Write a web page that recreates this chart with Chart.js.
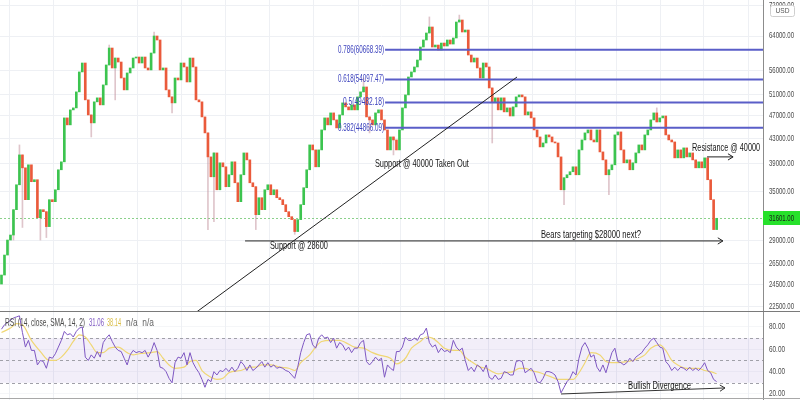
<!DOCTYPE html>
<html>
<head>
<meta charset="utf-8">
<script src="https://cdn.jsdelivr.net/npm/chart.js@4.4.1/dist/chart.umd.min.js"></script>
<style>
  html, body { margin: 0; padding: 0; background: #fff; }
  #wrap { position: relative; width: 800px; height: 400px; overflow: hidden; }
  #mainBox { position: absolute; left: 0; top: 0; width: 800px; height: 311px; }
  #rsiBox { position: absolute; left: 0; top: 311px; width: 800px; height: 89px; }
</style>
</head>
<body>
<div id="wrap">
  <div id="mainBox"><canvas id="priceChart" width="800" height="311"></canvas></div>
  <div id="rsiBox"><canvas id="rsiChart" width="800" height="89"></canvas></div>
</div>
<script>
// daily closes (USD) left to right
const closes = [
  25370, 27410, 29050, 29620, 32670, 35980, 40390, 38420, 33960, 38870,
  36410, 36690, 31680, 32670, 32420, 30600, 33960, 33700, 35290, 38130,
  39320, 46610, 45370, 48080, 48450, 51550, 55690, 57650, 49980, 47150,
  45720, 49600, 50370, 49020, 52960, 57210, 61090, 56550, 58770, 57870,
  54400, 51950, 55470, 56550, 58770, 59000, 57650, 59000, 56550, 56120,
  59920, 64000, 63020, 56120, 56550, 51950, 50560, 49400, 54400, 53990,
  57650, 56770, 53570, 58770, 56770, 49980, 49600, 46790, 43980, 40080,
  37110, 40700, 35290, 39170, 38570, 35710, 37400, 39320, 36260, 33700,
  37400, 40700, 39620, 36260, 35710, 32050, 34220, 32670, 35290, 35980,
  34620, 35290, 34220, 33960, 33310, 32420, 31800, 31440, 30020, 31440,
  33310, 35570, 38130, 41980, 41180, 38570, 41180, 44490, 46610, 45370,
  47520, 46250, 44840, 47150, 49400, 48640, 48080, 49020, 48080, 50560,
  51550, 52540, 46790, 46250, 45370, 47520, 48080, 46250, 44490, 41180,
  43300, 42800, 41180, 44490, 48450, 50950, 54610, 55690, 56770, 58320,
  61330, 63020, 64750, 66270, 61330, 61800, 60620, 62280, 61570, 63020,
  62040, 63510, 67560, 68090, 65000, 65500, 59460, 57870, 58770, 56550,
  54400, 57650, 56770, 52340, 49600, 50370, 48080, 50370, 47710, 48450,
  46960, 48640, 50560, 50950, 50560, 47150, 47710, 46610, 44490, 43300,
  41660, 42300, 43640, 43300, 42470, 42300, 40080, 35290, 36970, 37400,
  37840, 38570, 37400, 41180, 42800, 43980, 44490, 42800, 42470, 44490,
  40860, 39620, 37400, 38130, 38870, 43640, 44150, 41180, 39170, 39620,
  38130, 39170, 40700, 41980, 41180, 43640, 44490, 46250, 47520, 45890,
  46610, 46960, 43640, 42800, 42470, 39930, 41180, 39930, 41500, 40080,
  40700, 39620, 38420, 39320, 38420, 39930, 36690, 33960, 30250, 31601
];
const firstOpen = 24500;

// the long wicks that show (null = wick ends at the body)
const wickIdx  = [4, 6, 7, 13, 15, 30, 36, 38, 51, 57, 69, 71, 85, 98, 121, 123, 131, 143, 153, 164, 188, 203, 219];
const wickLow  = [29050, null, 30500, 29050, 29330, 43300, null, 49980, null, 47520, 30250, 31200, 30250, 29700, null, 43980, 40390, null, null, 42300, 33310, 34620, null];
const wickHigh = [null, 41980, null, null, null, null, 61800, null, 65000, null, null, null, null, null, 54400, null, null, 68900, 69400, null, null, null, 48450];

// RSI(14) and its SMA(14)
const rsiVals = [
  78, 82, 84, 86, 88, 89, 90, 75, 62, 68,
  59, 59, 46, 50, 49, 43, 53, 52, 56, 62,
  68, 76, 73, 74, 71, 76, 79, 80, 53, 50,
  55, 52, 58, 53, 66, 70, 73, 67, 62, 59,
  58, 52, 46, 55, 59, 57, 58, 57, 59, 53,
  58, 66, 59, 44, 43, 40, 34, 30, 48, 53,
  52, 57, 46, 57, 48, 43, 39, 33, 26, 33,
  31, 40, 37, 41, 40, 43, 40, 44, 40, 43,
  49, 46, 41, 46, 41, 43, 46, 49, 44, 48,
  44, 46, 43, 44, 43, 41, 40, 37, 34, 44,
  57, 66, 73, 74, 64, 61, 70, 73, 70, 71,
  66, 70, 61, 66, 64, 59, 62, 57, 61, 61,
  66, 68, 49, 46, 49, 53, 50, 52, 35, 46,
  43, 41, 58, 58, 62, 71, 68, 68, 70, 68,
  73, 74, 79, 66, 62, 64, 57, 61, 58, 59,
  57, 68, 62, 59, 61, 50, 41, 44, 40, 46,
  44, 40, 46, 35, 33, 37, 33, 34, 40, 39,
  37, 37, 49, 50, 49, 39, 41, 43, 39, 31,
  30, 34, 40, 40, 39, 37, 31, 21, 26, 31,
  34, 40, 37, 52, 62, 66, 61, 53, 55, 44,
  40, 46, 39, 48, 57, 61, 49, 48, 46, 48,
  52, 49, 53, 55, 57, 61, 64, 68, 70, 66,
  62, 61, 49, 46, 41, 44, 41, 44, 43, 41,
  44, 41, 43, 41, 44, 48, 41, 39, 33, 31.06
];
const smaIdx = [0, 3, 5, 7, 10, 13, 16, 18, 20, 22, 24, 26, 28, 30, 32, 34, 36, 39, 42, 44, 46, 50, 52, 54, 56, 58,
  61, 63, 65, 67, 70, 72, 74, 76, 80, 83, 85, 87, 90, 93, 96, 98, 100, 103, 105, 107, 110, 113, 115, 118, 121, 124,
  126, 130, 132, 135, 137, 140, 142, 144, 146, 148, 151, 153, 155, 157, 160, 162, 164, 166, 168, 171, 173, 175, 177,
  180, 182, 184, 186, 189, 191, 193, 195, 197, 200, 202, 204, 206, 209, 211, 213, 215, 217, 220, 222, 224, 226, 229,
  231, 233, 235, 237, 239];
const smaVals = [75, 79, 83, 82, 68, 58, 50, 50, 53, 59, 67, 73, 71, 64, 57, 57, 61, 62, 57, 55, 56, 57, 58, 52, 46, 43,
  44, 49, 50, 41, 35, 33, 34, 39, 41, 44, 44, 46, 46, 44, 43, 41, 48, 55, 62, 67, 68, 68, 66, 62, 61, 57,
  55, 52, 47, 52, 61, 67, 71, 70, 66, 61, 59, 59, 53, 49, 44, 43, 40, 38, 39, 40, 43, 43, 41,
  39, 37, 35, 33, 33, 33, 39, 48, 57, 55, 49, 48, 48, 49, 50, 52, 55, 61, 64, 59, 50, 46, 43,
  43, 43, 41, 40, 38.14];

const priceTicks = [22500, 24500, 26500, 29000, 35000, 39000, 43000, 47000, 51000, 56000, 64000, 72000];
const rsiTicks = [20, 40, 60, 80];
const rsiBand = [30, 70];
const rsiMid = 50;
const lastPrice = 31601;
// vertical time grid, in candle units
const timeGrid = [2.8, 17.5, 45.6, 60, 75, 89.7, 104.4, 119.2, 133.5, 148.2, 162.6, 177.3, 192, 205.7, 220.1, 234.5, 249.5];

const fibLevels = ['0.786', '0.618', '0.5', '0.382'];
const fibPrices = [60668.39, 54097.47, 49482.18, 44866.09];
const fibStart = 128.2;

// drawings, in (candle, price) units
const trendLine = [[62, 21400], [172.3, 54610]];
const supportLine = [[81.4, 28950], [241.1, 28950]];
const resistLine = [[235.8, 40080], [244.5, 40080]];
const notes = [
  { text: 'Support @ 28600', i: 89.7, p: 28400, w: 58 },
  { text: 'Support @ 40000 Taken Out', i: 124.8, p: 39020, w: 94 },
  { text: 'Bears targeting $28000 next?', i: 180.3, p: 29620, w: 100 },
  { text: 'Resistance @ 40000', i: 230.8, p: 41500, w: 68 }
];
const divLine = [[187, 20.0], [241.8, 25.4]];
const divNote = { text: 'Bullish Divergence', i: 209.4, v: 26.6, w: 63 };

const upColor = '#3cc44f';
const downColor = '#ea5a3b';
const wickColor = 'rgba(196,150,160,0.55)';
const fibColor = '#5a5ec8';
const gridColor = '#eef0f4';
const FONT = '"Liberation Sans", Arial, sans-serif';

const opens = closes.map((c, i) => i === 0 ? firstOpen : closes[i - 1]);
const bodyData = closes.map((c, i) => ({ x: i, y: [opens[i], c] }));
const bodyColors = closes.map((c, i) => c >= opens[i] ? upColor : downColor);
const wickData = wickIdx.map((k, j) => ({
  x: k,
  y: [wickLow[j] != null ? wickLow[j] : Math.min(opens[k], closes[k]),
      wickHigh[j] != null ? wickHigh[j] : Math.max(opens[k], closes[k])]
}));

function text(ctx, str, x, y, w, color, size, align) {
  ctx.font = size + 'px ' + FONT;
  ctx.fillStyle = color;
  ctx.textAlign = align || 'left';
  ctx.textBaseline = 'middle';
  ctx.fillText(str, x, y, w);
}

function arrow(ctx, x1, y1, x2, y2, head) {
  ctx.beginPath(); ctx.moveTo(x1, y1); ctx.lineTo(x2, y2); ctx.stroke();
  if (!head) return;
  const ang = Math.atan2(y2 - y1, x2 - x1);
  ctx.beginPath();
  ctx.moveTo(x2 - 6 * Math.cos(ang - 0.55), y2 - 6 * Math.sin(ang - 0.55));
  ctx.lineTo(x2, y2);
  ctx.lineTo(x2 - 6 * Math.cos(ang + 0.55), y2 - 6 * Math.sin(ang + 0.55));
  ctx.stroke();
}

function xAxis() {
  return {
    type: 'linear', min: -0.5, max: 254.5, offset: false,
    afterBuildTicks: s => { s.ticks = timeGrid.map(v => ({ value: v })); },
    afterFit: s => { s.height = 0; s.paddingLeft = 0; s.paddingRight = 0; },
    ticks: { display: false },
    grid: { color: gridColor, drawTicks: false, offset: false },
    border: { display: false }
  };
}

const mainDecor = {
  id: 'mainDecor',
  beforeDatasetsDraw(chart) {
    const { ctx, chartArea: a, scales: { y } } = chart;
    const yp = Math.round(y.getPixelForValue(lastPrice)) + 0.5;
    ctx.save();
    ctx.strokeStyle = 'rgba(90,190,90,0.7)';
    ctx.lineWidth = 1;
    ctx.setLineDash([2, 2]);
    ctx.beginPath(); ctx.moveTo(a.left, yp); ctx.lineTo(a.right, yp); ctx.stroke();
    ctx.restore();
  },
  afterDatasetsDraw(chart) {
    const { ctx, chartArea: a, scales: { x, y } } = chart;
    ctx.save();
    ctx.beginPath(); ctx.rect(a.left, a.top, a.width, a.height); ctx.clip();

    // fibonacci levels
    fibPrices.forEach((p, k) => {
      const yp = y.getPixelForValue(p);
      ctx.strokeStyle = fibColor;
      ctx.lineWidth = 2;
      ctx.beginPath(); ctx.moveTo(x.getPixelForValue(fibStart), yp); ctx.lineTo(a.right, yp); ctx.stroke();
      const lbl = fibLevels[k] + '(' + p.toFixed(2) + ')';
      const w = fibLevels[k] === '0.5' ? 41 : 46;
      text(ctx, lbl, x.getPixelForValue(fibStart) - 1, yp, w, '#3c42bd', 10, 'right');
    });

    // trend line and arrows
    ctx.strokeStyle = '#222';
    ctx.lineWidth = 1;
    arrow(ctx, x.getPixelForValue(trendLine[0][0]), y.getPixelForValue(trendLine[0][1]),
      x.getPixelForValue(trendLine[1][0]), y.getPixelForValue(trendLine[1][1]), false);
    arrow(ctx, x.getPixelForValue(supportLine[0][0]), y.getPixelForValue(supportLine[0][1]),
      x.getPixelForValue(supportLine[1][0]), y.getPixelForValue(supportLine[1][1]), true);
    arrow(ctx, x.getPixelForValue(resistLine[0][0]), y.getPixelForValue(resistLine[0][1]),
      x.getPixelForValue(resistLine[1][0]), y.getPixelForValue(resistLine[1][1]), true);

    notes.forEach(n => {
      text(ctx, n.text, x.getPixelForValue(n.i), y.getPixelForValue(n.p), n.w, '#161616', 10.5, 'left');
    });
    ctx.restore();
  },
  afterDraw(chart) {
    const { ctx, chartArea: a, scales: { y } } = chart;
    ctx.save();
    priceTicks.forEach(v => {
      text(ctx, v.toFixed(2), a.right + 6, y.getPixelForValue(v), 25, '#4a4a4a', 9, 'left');
    });
    // last price tag
    const yp = y.getPixelForValue(lastPrice);
    ctx.fillStyle = '#27e12b';
    ctx.fillRect(a.right, Math.round(yp) - 7, chart.width - a.right, 14);
    text(ctx, lastPrice.toFixed(2), a.right + 6, yp, 25, '#1a1a1a', 9, 'left');
    // currency badge
    ctx.fillStyle = '#fff';
    ctx.strokeStyle = '#cfcfcf';
    ctx.lineWidth = 1;
    ctx.beginPath();
    ctx.roundRect(770.5, 5.5, 24, 11, 2);
    ctx.fill(); ctx.stroke();
    text(ctx, 'USD', 782.5, 11, 14, '#555', 8, 'center');
    ctx.restore();
  }
};

const rsiDecor = {
  id: 'rsiDecor',
  beforeDatasetsDraw(chart) {
    const { ctx, chartArea: a, scales: { y } } = chart;
    const yTop = y.getPixelForValue(rsiBand[1]);
    const yBot = y.getPixelForValue(rsiBand[0]);
    ctx.save();
    ctx.fillStyle = 'rgba(126,87,194,0.10)';
    ctx.fillRect(a.left, yTop, a.width, yBot - yTop);
    ctx.strokeStyle = '#a0a0a8';
    ctx.lineWidth = 1;
    ctx.setLineDash([3, 3]);
    [rsiBand[1], rsiMid, rsiBand[0]].forEach(v => {
      const yy = Math.round(y.getPixelForValue(v)) + 0.5;
      ctx.beginPath(); ctx.moveTo(a.left, yy); ctx.lineTo(a.right, yy); ctx.stroke();
    });
    ctx.restore();
  },
  afterDatasetsDraw(chart) {
    const { ctx, chartArea: a, scales: { x, y } } = chart;
    ctx.save();
    ctx.strokeStyle = '#333';
    ctx.lineWidth = 1;
    arrow(ctx, x.getPixelForValue(divLine[0][0]), y.getPixelForValue(divLine[0][1]),
      x.getPixelForValue(divLine[1][0]), y.getPixelForValue(divLine[1][1]), true);
    text(ctx, divNote.text, x.getPixelForValue(divNote.i), y.getPixelForValue(divNote.v), divNote.w, '#161616', 10.5, 'left');

    // legend
    text(ctx, 'RSI (14, close, SMA, 14, 2)', 5, 12, 80, '#4a4a4a', 10, 'left');
    text(ctx, rsiVals[rsiVals.length - 1].toFixed(2), 89, 12, 15, '#7e57c2', 10, 'left');
    text(ctx, smaVals[smaVals.length - 1].toFixed(2), 107, 12, 14, '#d9bd45', 10, 'left');
    text(ctx, 'n/a  n/a', 126, 12, 28, '#666', 10, 'left');
    ctx.restore();
  },
  afterDraw(chart) {
    const { ctx, chartArea: a, scales: { y } } = chart;
    ctx.save();
    rsiTicks.forEach(v => {
      text(ctx, v.toFixed(2), a.right + 6, y.getPixelForValue(v), 16, '#4a4a4a', 9, 'left');
    });
    ctx.strokeStyle = '#7a7a7a';
    ctx.lineWidth = 1;
    ctx.beginPath(); ctx.moveTo(0, 0.5); ctx.lineTo(chart.width, 0.5); ctx.stroke();
    ctx.strokeStyle = '#a8a8a8';
    ctx.beginPath(); ctx.moveTo(0, chart.height - 1.5); ctx.lineTo(chart.width, chart.height - 1.5); ctx.stroke();
    ctx.restore();
  }
};

new Chart(document.getElementById('priceChart'), {
  type: 'bar',
  data: {
    datasets: [
      { label: 'body', data: bodyData, backgroundColor: bodyColors, barThickness: 2, minBarLength: 1, grouped: false },
      { label: 'wick', data: wickData, backgroundColor: wickColor, barThickness: 1, grouped: false }
    ]
  },
  options: {
    responsive: false,
    animation: false,
    devicePixelRatio: 1,
    layout: { padding: 0 },
    plugins: { legend: { display: false }, tooltip: { enabled: false } },
    scales: {
      x: xAxis(),
      y: {
        type: 'logarithmic', position: 'right', min: 22072, max: 73571,
        afterBuildTicks: s => { s.ticks = priceTicks.map(v => ({ value: v })); },
        afterFit: s => { s.width = 37; s.paddingTop = 0; s.paddingBottom = 0; },
        ticks: { display: false },
        grid: { color: gridColor, drawTicks: false },
        border: { color: '#8c8c8c' }
      }
    }
  },
  plugins: [mainDecor]
});

new Chart(document.getElementById('rsiChart'), {
  type: 'line',
  data: {
    datasets: [
      { label: 'RSI', data: rsiVals.map((v, i) => ({ x: i, y: v })), borderColor: '#7e57c2', borderWidth: 1, pointRadius: 0, tension: 0 },
      { label: 'SMA', data: smaIdx.map((k, j) => ({ x: k, y: smaVals[j] })), borderColor: '#f0d775', borderWidth: 1.2, pointRadius: 0, cubicInterpolationMode: 'monotone' }
    ]
  },
  options: {
    responsive: false,
    animation: false,
    devicePixelRatio: 1,
    layout: { padding: 0 },
    plugins: { legend: { display: false }, tooltip: { enabled: false } },
    scales: {
      x: xAxis(),
      y: {
        type: 'linear', position: 'right', min: 14.6, max: 94.3,
        afterBuildTicks: s => { s.ticks = rsiTicks.map(v => ({ value: v })); },
        afterFit: s => { s.width = 37; s.paddingTop = 0; s.paddingBottom = 0; },
        ticks: { display: false },
        grid: { color: 'rgba(238,240,244,0.6)', drawTicks: false },
        border: { color: '#8c8c8c' }
      }
    }
  },
  plugins: [rsiDecor]
});
</script>
</body>
</html>
